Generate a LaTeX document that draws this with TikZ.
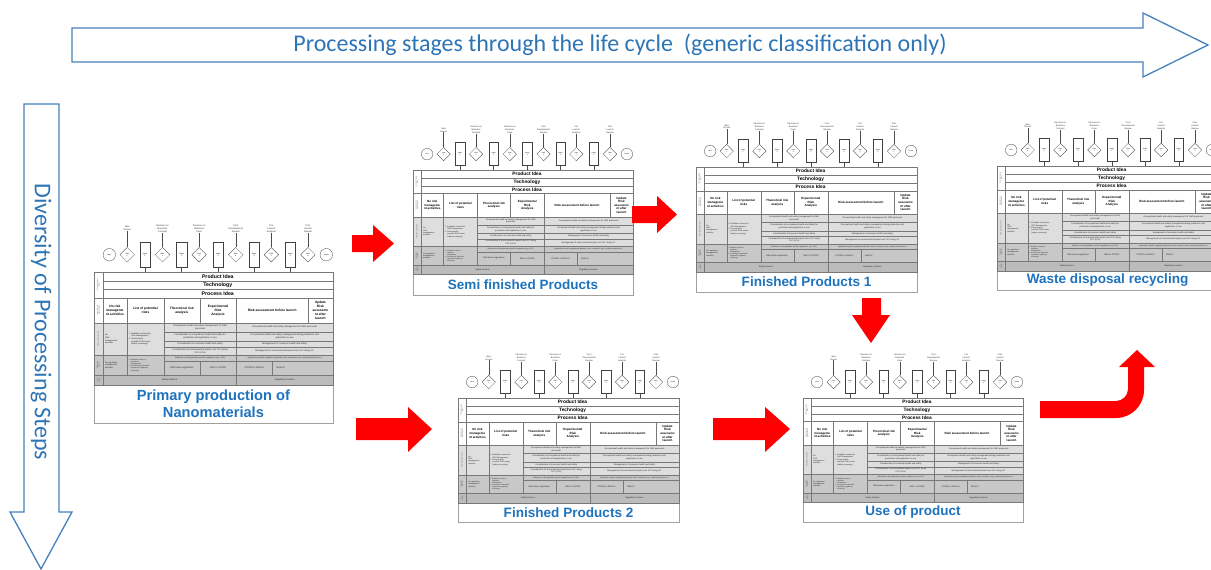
\documentclass[tikz,border=0pt]{standalone}
\usepackage{fontspec}
\setmainfont{Liberation Sans}
\newfontfamily\calib{Carlito}
\usetikzlibrary{shapes.geometric}
\definecolor{arrblue}{RGB}{70,128,190}
\definecolor{txtblue}{RGB}{46,117,182}
\definecolor{ttlblue}{RGB}{30,115,190}
\definecolor{redarr}{RGB}{255,0,0}
\definecolor{ohsgray}{RGB}{222,222,222}
\definecolor{reggray}{RGB}{200,200,200}
\definecolor{scigray}{RGB}{188,188,188}
\definecolor{linegray}{RGB}{120,120,120}
\tikzset{
 x=1pt, y=-1pt,
 tline/.style={draw=linegray, line width=0.25pt},
 pframe/.style={draw=linegray!70, line width=0.35pt, fill=white},
 fcshape/.style={draw=black!75, line width=0.3pt, fill=white, inner sep=0pt, align=center, font=\fontsize{1.6}{1.9}\selectfont},
 circ/.style={fcshape, circle, minimum size=11.5},
 gate/.style={fcshape, diamond, minimum width=13.5, minimum height=13.5},
 stg/.style={fcshape, rectangle, minimum width=9.5, minimum height=23},
 flab/.style={align=center, inner sep=0pt, font=\fontsize{2.2}{2.8}\selectfont, text=black!80},
 fline/.style={draw=black!70, line width=0.25pt},
 rowt/.style={font=\bfseries\fontsize{4.8}{5.2}\selectfont, inner sep=0pt},
 hd/.style={font=\bfseries\fontsize{3}{3.6}\selectfont, align=center, inner sep=0pt},
 cell/.style={font=\fontsize{2.1}{2.6}\selectfont, align=center, inner sep=0pt, text=black!85},
 lcell/.style={font=\fontsize{1.9}{2.4}\selectfont, align=left, inner sep=0pt, text=black!85, anchor=west},
 side/.style={font=\fontsize{1.4}{1.7}\selectfont, align=center, inner sep=0pt, rotate=90, text=black!75},
 ptitle/.style={font=\bfseries\fontsize{13.5}{15.6}\selectfont, text=ttlblue, align=center, inner sep=0pt},
 bluearrow/.style={draw=arrblue, line width=1.3pt, fill=white, line join=miter},
 redblock/.style={fill=redarr, draw=none},
 bigtext/.style={font=\calib\fontsize{24}{28}\selectfont, text=txtblue, inner sep=0pt},
}
\newcommand\panelbody[3]{%
 \draw[pframe] (0,0) rectangle (220,#2);
 \fill[ohsgray] (0,46.9) rectangle (220,76.6);
 \fill[reggray] (0,76.6) rectangle (220,95);
 \fill[scigray] (0,95) rectangle (220,104.2);
 \draw[tline] (0,0) rectangle (220,104.2);
 \draw[tline] (8,0) -- (8,104.2);
 \draw[tline] (8,8.3) -- (220,8.3) (8,16.2) -- (220,16.2);
 \draw[tline] (0,23.6) -- (220,23.6) (0,46.9) -- (220,46.9) (0,76.6) -- (220,76.6) (0,95) -- (220,95);
 \draw[tline] (30.6,23.6) -- (30.6,95) (64.3,23.6) -- (64.3,95) (97.4,23.6) -- (97.4,46.9) (97.4,81.8) -- (97.4,95)
   (131.1,23.6) -- (131.1,104.2) (197,23.6) -- (197,46.9) (164.2,81.8) -- (164.2,95);
 \draw[tline] (64.3,55.1) -- (220,55.1) (64.3,63.4) -- (220,63.4) (64.3,68.9) -- (220,68.9) (64.3,81.8) -- (220,81.8);
 % side labels
 \node[side] (-sa) at (4,11.8) {Innovation stages\\(TRL)};
 \node[side] (-sb) at (4,35.25) {Innovation risk\\mgmt. stages};
 \node[side] (-sc) at (4,61.75) {OHS aspect processes};
 \node[side] (-sd) at (4,85.8) {Regulatory\\aspects};
 \node[side] (-se) at (4,99.6) {Sci.\\aspect};
 % idea rows
 \node[rowt] (-r1) at (114,4.15) {Product Idea};
 \node[rowt] (-r2) at (114,12.25) {Technology};
 \node[rowt] (-r3) at (114,19.9) {Process Idea};
 % header
 \node[hd] (-h1) at (19.3,35.25) {No risk\\manageme\\nt activities};
 \node[hd] (-h2) at (47.45,35.25) {List of potential\\risks};
 \node[hd] (-h3) at (80.85,35.25) {Theoretical risk\\analysis};
 \node[hd] (-h4) at (114.25,35.25) {Experimental\\Risk\\Analysis};
 \node[hd] (-h5) at (164.05,35.25) {Risk assessment before launch};
 \node[hd] (-h6) at (208.5,35.25) {Update\\Risk\\assessme\\nt after\\launch};
 % OHS
 \node[lcell] (-o1) at (10,61.75) {No\\OHS\\management\\activities};
 \node[lcell] (-o2) at (32,61.75) {1.~Establish contacts for\\\phantom{1.~}OHS Management\\2.~Screening for\\\phantom{2.~}possible OHS issues\\\phantom{2.~}(safety screening)};
 \node[cell] (-o3) at (97.7,51) {Occupational health and safety management for R\&D\\personnel};
 \node[cell] (-o4) at (97.7,59.25) {Consideration of occupational health and safety for\\production and application or use};
 \node[cell] (-o5) at (97.7,66.15) {Consideration of consumer health and safety};
 \node[cell] (-o6) at (97.7,72.75) {Consideration of environmental impact over PLC along\\PLC (LCA)};
 \node[cell] (-o7) at (175.55,51) {Occupational health and safety management for R\&D personnel};
 \node[cell] (-o8) at (175.55,59.25) {Occupational health and safety management during production and\\application or use};
 \node[cell] (-o9) at (175.55,66.15) {Management of consumer health and safety};
 \node[cell] (-o10) at (175.55,72.75) {Management of environmental impact over PLC along VC};
 % regulatory
 \node[lcell] (-g1t) at (10,85.8) {No regulatory\\management\\activities};
 \node[lcell, font=\fontsize{1.6}{2}\selectfont] (-g2t) at (32,85.8) {1.~Establish contact to\\\phantom{1.~}regulatory\\\phantom{1.~}management\\2.~Screening for applicable\\\phantom{2.~}regulations (regulatory\\\phantom{2.~}screening)};
 \node[cell, font=\fontsize{1.8}{2.2}\selectfont] (-g3t) at (97.7,79.2) {Adhesion to still applicable specific regulations (e.g. OLP)};
 \node[cell, font=\fontsize{1.8}{2.2}\selectfont] (-g4t) at (175.55,79.2) {Application specific regulations (pharma, food, cosmetics, toys, medical products etc.)};
 \node[cell] (-g5t) at (80.85,88.4) {R\&D below registration};
 \node[cell] (-g6t) at (114.25,88.4) {R\&D or PPORD};
 \node[cell] (-g7t) at (147.65,88.4) {PPORD or REACH};
 \node[cell, anchor=west] (-g8t) at (168,88.4) {REACH};
 % science
 \node[cell] (-c1) at (69.55,99.6) {Safety Science};
 \node[cell] (-c2) at (175.55,99.6) {Regulatory Science};
 % flowchart
 \node[circ] (-idea) at (14.1,-15.9) {Idea};
 \node[gate] (-g1) at (30.6,-15.9) {Gate\\1};
 \node[stg] (-s1) at (46.9,-16.1) {Stage\\1};
 \node[gate] (-g2) at (63.1,-15.9) {Gate\\2};
 \node[stg] (-s2) at (80.6,-16.1) {Stage\\2};
 \node[gate] (-g3) at (96.8,-15.9) {Gate\\3};
 \node[stg] (-s3) at (114.3,-16.1) {Stage\\3};
 \node[gate] (-g4) at (130.5,-15.9) {Gate\\4};
 \node[stg] (-s4) at (147.4,-16.1) {Stage\\4};
 \node[gate] (-g5) at (163.3,-15.9) {Gate\\5};
 \node[stg] (-s5) at (180.8,-16.1) {Stage\\5};
 \node[gate] (-g6) at (197,-15.9) {Gate\\6};
 \node[circ] (-res) at (213.9,-15.9) {Result};
 \node[flab] (-l1) at (30.6,-40) {Idea\\Screen};
 \node[flab] (-l2) at (63.1,-40) {Decision on\\Business\\Concept};
 \node[flab] (-l3) at (96.8,-40) {Decision on\\Business\\Case};
 \node[flab] (-l4) at (130.5,-40) {Post\\Development\\Review};
 \node[flab] (-l5) at (163.3,-40) {Pre\\Launch\\Analysis};
 \node[flab] (-l6) at (197,-40) {Post\\Launch\\Review};
 \foreach \i in {1,...,6} {\draw[fline] (-l\i.south) -- (-g\i.north);}
 \foreach \i/\xx in {1/46.9,2/80.6,3/114.3,4/147.4,5/180.8} {
   \coordinate (-t\i) at (\xx,0);
   \draw[fline] (-s\i.south) -- (-t\i);}
 % title
 \node[ptitle] (-title) at (110,#3) {#1};
}
\begin{document}
\begin{tikzpicture}
\useasboundingbox (0,0) rectangle (1211,570);
\begin{scope}
\clip (0,0) rectangle (1211,570);
% blue arrows
\draw[bluearrow] (72,28) -- (1143,28) -- (1143,13) -- (1208,45) -- (1143,77) -- (1143,62) -- (72,62) -- cycle;
\node[bigtext] (toptxt) at (620,45) {Processing stages through the life cycle\ \ (generic classification only)};
\draw[bluearrow] (24,104) -- (59,104) -- (59,512) -- (72,512) -- (41,569) -- (10,512) -- (24,512) -- cycle;
\node[bigtext, rotate=-90] (sidetxt) at (41,322) {Diversity of Processing Steps};
% panels
\begin{scope}[shift={(94,272)}, scale=1.086, transform shape, name prefix=prim]
 \panelbody{Primary production of\\Nanomaterials}{139}{121}
\end{scope}
\begin{scope}[shift={(413,170)}, scale=1.0, transform shape, name prefix=semi]
 \panelbody{Semi finished Products}{125}{115}
\end{scope}
\begin{scope}[shift={(696,167)}, scale=1.005, transform shape, name prefix=fina]
 \panelbody{Finished Products 1}{125}{114.5}
\end{scope}
\begin{scope}[shift={(997,166)}, scale=1.005, transform shape, name prefix=wast]
 \panelbody{Waste disposal recycling}{124}{113.5}
\end{scope}
\begin{scope}[shift={(458,398)}, scale=1.005, transform shape, name prefix=finb]
 \panelbody{Finished Products 2}{124}{114}
\end{scope}
\begin{scope}[shift={(803,398)}, scale=1.0, transform shape, name prefix=usep]
 \panelbody{Use of product}{124.5}{114.5}
\end{scope}
% red arrows
\fill[redblock] (352,235) -- (373,235) -- (373,225) -- (394,243.5) -- (373,262) -- (373,252) -- (352,252) -- cycle;
\fill[redblock] (356,418) -- (408,418) -- (408,407) -- (432,429) -- (408,452) -- (408,440) -- (356,440) -- cycle;
\fill[redblock] (632,206) -- (657,206) -- (657,196) -- (677,214.5) -- (657,233) -- (657,223) -- (632,223) -- cycle;
\fill[redblock] (862,298) -- (881,298) -- (881,315) -- (890,315) -- (871,343) -- (852,315) -- (862,315) -- cycle;
\fill[redblock] (713,418) -- (765,418) -- (765,407) -- (790,429) -- (765,452) -- (765,440) -- (713,440) -- cycle;
\fill[redblock] (1040,401) -- (1116,401) .. controls (1122.6,401) and (1128,395.6) .. (1128,389) -- (1128,367) -- (1119,367) -- (1137,350) -- (1155,367) -- (1144,367) -- (1144,390) .. controls (1144,405.5) and (1131.5,418) .. (1116,418) -- (1040,418) -- cycle;
\end{scope}
\end{tikzpicture}
\end{document}
